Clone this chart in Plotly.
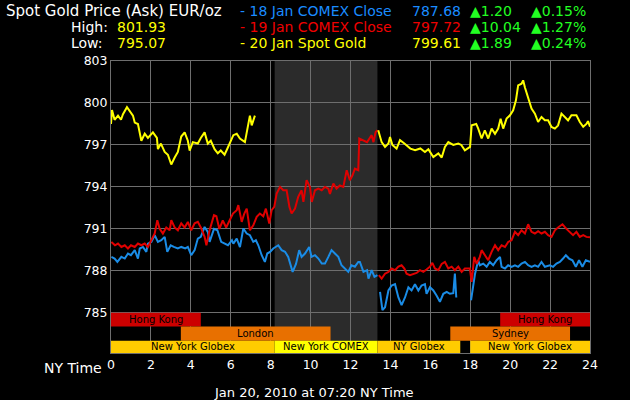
import plotly.graph_objects as go

# ---------------- data ----------------
# 20 Jan Spot Gold (yellow) - hours (NY time) and EUR/oz
yellow_h = [0.0, 0.05, 0.18, 0.35, 0.5, 0.6, 0.8, 0.94, 1.1, 1.19, 1.35, 1.52, 1.69, 1.85, 2.1, 2.3, 2.35, 2.5,
            2.69, 2.85, 3.02, 3.19, 3.35, 3.52, 3.69, 3.85, 3.94, 4.1, 4.35, 4.5, 4.69, 4.85, 5.0, 5.19, 5.35,
            5.5, 5.69, 5.85, 6.0, 6.13, 6.3, 6.46, 6.71, 6.88, 6.96, 7.05, 7.21, None,
            13.39, 13.56, 13.73, 13.9, 13.98, 14.1, 14.31, 14.48, 14.7, 15.0, 15.24, 15.5, 15.73, 15.9, 16.15,
            16.4, 16.57, 16.73, 16.9, 17.15, 17.4, 17.55, 17.73, 17.9, 17.99, 18.07, 18.3, 18.4, 18.57, 18.73,
            18.9, 19.07, 19.24, 19.4, 19.52, 19.65, 19.82, 19.99, 20.15, 20.29, 20.4, 20.57, 20.65, 20.74,
            20.9, 21.07, 21.24, 21.4, 21.57, 21.74, 21.9, 22.07, 22.24, 22.4, 22.57, 22.73, 22.9, 23.07,
            23.32, 23.49, 23.66, 23.82, 23.9, 24.0]
yellow_v = [798.5, 799.5, 798.8, 799.1, 798.8, 799.2, 799.7, 799.4, 799.1, 798.6, 798.5, 797.3, 797.8, 797.5,
            797.9, 797.5, 796.7, 797.1, 796.5, 796.3, 795.6, 796.1, 796.5, 797.6, 797.9, 797.3, 796.6, 797.2,
            797.1, 797.5, 797.9, 797.1, 797.3, 796.7, 796.4, 796.6, 796.3, 796.8, 797.3, 797.7, 797.8, 797.45,
            797.2, 798.5, 799.1, 798.4, 799.1, None,
            798.05, 797.2, 796.86, 797.1, 797.57, 797.0, 796.74, 797.34, 797.1, 796.74, 796.62, 796.75, 796.5,
            796.7, 796.14, 796.4, 796.1, 796.86, 797.2, 797.0, 797.1, 797.0, 796.62, 796.74, 796.86, 798.4,
            798.5, 798.17, 797.46, 798.05, 797.46, 798.17, 797.8, 798.17, 798.88, 798.17, 798.88, 799.12,
            799.48, 800.19, 801.26, 801.38, 801.62, 801.1, 800.43, 799.6, 799.24, 798.64, 799.0, 798.76,
            798.76, 798.29, 798.17, 798.4, 799.24, 799.0, 798.76, 799.12, 799.12, 798.64, 798.3, 798.5,
            798.7, 798.3]

# 19 Jan COMEX Close (red)
red_h = [0.02, 0.2, 0.35, 0.52, 0.69, 0.85, 1.0, 1.19, 1.35, 1.52, 1.69, 1.85, 2.02, 2.19, 2.32, 2.44, 2.6,
         2.77, 2.94, 3.02, 3.19, 3.35, 3.52, 3.69, 3.85, 4.02, 4.19, 4.35, 4.5, 4.69, 4.78, 4.94, 5.16, 5.28,
         5.43, 5.6, 5.77, 5.94, 6.11, 6.3, 6.38, 6.55, 6.68, 6.8, 6.96, 7.13, 7.3, 7.46, 7.63, 7.76, 7.93,
         8.05, 8.18, 8.3, 8.47, 8.63, 8.8, 8.94, 9.05, 9.22, 9.38, 9.55, 9.64, 9.8, 9.97, 10.06, 10.22,
         10.39, 10.56, 10.72, 10.89, 10.97, 11.14, 11.3, 11.47, 11.64, 11.81, 11.97, 12.1, 12.22, 12.39,
         12.44, 12.65, 12.83, 12.95, 13.06, 13.15, 13.26, 13.35, None,
         13.42, 13.56, 13.73, 13.9, 14.06, 14.23, 14.4, 14.56, 14.7, 14.81, 14.98, 15.15, 15.31, 15.48,
         15.65, 15.81, 15.98, 16.1, 16.23, 16.4, 16.57, 16.73, 16.9, 17.07, 17.23, 17.4, 17.57, 17.73,
         17.98, 18.07, 18.2, 18.32, 18.48, 18.57, 18.73, 18.9, 19.07, 19.24, 19.4, 19.57, 19.74, 19.9,
         20.07, 20.24, 20.4, 20.57, 20.74, 20.9, 21.07, 21.24, 21.4, 21.57, 21.74, 21.9, 22.07, 22.24,
         22.4, 22.62, 22.82, 22.99, 23.15, 23.32, 23.49, 23.66, 23.82, 24.0]
red_v = [790.07, 789.83, 789.95, 789.71, 789.83, 789.6, 789.83, 789.71, 789.95, 789.83, 789.95, 789.71,
         790.19, 790.67, 791.62, 791.0, 790.67, 791.1, 790.9, 791.62, 791.1, 790.9, 791.4, 791.1, 791.5,
         790.9, 791.4, 791.5, 791.1, 790.43, 789.83, 790.9, 791.98, 791.9, 791.0, 791.6, 791.1, 791.62,
         792.1, 792.34, 792.7, 791.5, 792.1, 792.45, 790.9, 791.26, 791.86, 792.1, 791.9, 792.45, 791.38,
         792.34, 792.57, 793.52, 794.0, 793.76, 793.76, 792.57, 792.1, 792.45, 793.29, 793.76, 792.93,
         794.48, 794.0, 792.93, 793.76, 793.88, 793.76, 794.0, 793.88, 793.5, 794.24, 793.88, 794.1, 794.0,
         795.19, 794.48, 794.83, 795.3, 795.19, 797.46, 797.3, 797.2, 797.46, 797.7, 797.2, 797.93, 798.05,
         None,
         787.69, 787.45, 787.8, 787.93, 788.17, 788.05, 788.3, 788.4, 788.17, 787.8, 787.69, 787.75, 787.85,
         788.05, 787.93, 788.1, 788.3, 788.57, 788.17, 788.05, 788.5, 788.64, 788.17, 788.3, 788.05, 788.3,
         787.93, 788.17, 788.17, 787.21, 789.0, 788.5, 789.0, 789.48, 789.12, 788.76, 789.36, 789.83,
         789.48, 789.83, 789.71, 790.07, 790.19, 790.79, 790.55, 790.9, 790.67, 791.33, 790.79, 790.67,
         790.83, 790.67, 790.79, 790.55, 790.43, 790.9, 791.1, 791.33, 791.0, 790.79, 790.55, 790.79,
         790.43, 790.55, 790.43, 790.4]

# 18 Jan COMEX Close (blue)
blue_h = [0.02, 0.18, 0.32, 0.52, 0.69, 0.85, 1.0, 1.19, 1.35, 1.44, 1.6, 1.77, 1.85, 2.02, 2.19, 2.35, 2.52,
          2.69, 2.82, 2.99, 3.15, 3.35, 3.52, 3.72, 3.85, 4.02, 4.19, 4.35, 4.5, 4.69, 4.85, 4.94, 5.16, 5.33,
          5.52, 5.69, 5.86, 6.06, 6.13, 6.3, 6.46, 6.63, 6.8, 6.96, 7.13, 7.26, 7.38, 7.55, 7.71, 7.83, 7.97,
          8.13, 8.38, 8.55, 8.72, 8.88, 9.1, 9.27, 9.43, 9.55, 9.72, 9.93, 10.05, 10.22, 10.39, 10.56, 10.72,
          10.89, 11.05, 11.22, 11.39, 11.55, 11.72, 11.89, 12.05, 12.22, 12.39, 12.47, 12.65, 12.83, 12.9,
          13.06, 13.2, 13.35, None,
          13.48, 13.6, 13.73, 13.9, 14.06, 14.23, 14.4, 14.56, 14.73, 14.9, 15.06, 15.23, 15.4, 15.56, 15.73,
          15.81, 15.98, 16.15, 16.31, 16.48, 16.65, 16.82, 16.98, 17.15, 17.23, 17.3, None,
          18.04, 18.24, 18.4, 18.48, 18.65, 18.82, 18.98, 19.15, 19.32, 19.49, 19.57, 19.74, 19.9, 20.07,
          20.24, 20.4, 20.57, 20.74, 20.9, 21.07, 21.24, 21.4, 21.57, 21.74, 21.99, 22.15, 22.32, 22.49,
          22.65, 22.79, 22.95, 23.12, 23.29, 23.45, 23.62, 23.79, 24.0]
blue_v = [789.0, 788.88, 788.64, 789.0, 788.88, 789.24, 789.12, 789.48, 788.88, 789.6, 789.71, 789.36, 789.95,
          790.07, 790.55, 790.07, 790.19, 790.43, 789.36, 789.83, 789.71, 789.6, 789.71, 789.6, 789.71, 789.12,
          789.48, 790.31, 790.43, 791.14, 790.79, 790.07, 791.0, 790.9, 790.07, 789.95, 789.83, 790.19, 789.95,
          790.3, 789.7, 791.03, 790.67, 790.55, 790.07, 790.19, 789.83, 789.12, 788.64, 789.24, 789.36, 789.6,
          789.83, 789.48, 789.36, 789.0, 787.93, 788.5, 789.48, 789.0, 789.24, 789.71, 789.0, 789.12, 788.88,
          788.52, 788.52, 789.0, 789.48, 789.24, 789.0, 788.4, 788.17, 787.93, 788.4, 788.3, 788.64, 788.64,
          787.93, 788.05, 787.45, 788.05, 787.57, 787.69, None,
          786.5, 785.19, 785.4, 786.6, 786.95, 787.05, 786.1, 785.55, 786.1, 786.83, 786.6, 787.05, 786.6,
          786.95, 787.05, 786.36, 786.83, 786.6, 786.24, 785.79, 786.36, 786.5, 786.36, 786.4, 787.81, 786.1,
          None,
          785.9, 787.8, 788.76, 788.4, 788.52, 788.29, 788.64, 788.4, 788.76, 789.0, 788.29, 788.17, 788.4,
          788.29, 788.4, 788.29, 788.52, 788.64, 788.4, 788.29, 788.4, 788.29, 788.64, 788.29, 788.4, 788.29,
          788.52, 788.64, 788.88, 789.12, 788.88, 788.76, 788.29, 788.76, 788.29, 788.76, 788.64]

# trading sessions
session_names = ["Hong Kong", "Hong Kong", "London", "Sydney",
                 "New York Globex", "New York COMEX", "NY Globex", "New York Globex"]
session_start = [0, 19.5, 3.5, 17, 0, 8.2, 13.35, 18]
session_end = [4.5, 24, 11, 23, 8.2, 13.35, 17.5, 24]
session_row = [0, 0, 1, 1, 2, 2, 2, 2]
session_color = ["#cc0000", "#cc0000", "#e87000", "#e87000",
                 "#ffcc00", "#ffff00", "#ffcc00", "#ffcc00"]
comex_window = [8.2, 13.35]

y_ticks = [785, 788, 791, 794, 797, 800, 803]
x_ticks = list(range(0, 25, 2))

legend_names = ["- 18 Jan COMEX Close", "- 19 Jan COMEX Close", "- 20 Jan Spot Gold"]
legend_close = ["787.68", "797.72", "799.61"]
legend_change = ["\u25b21.20", "\u25b210.04", "\u25b21.89"]
legend_pct = ["\u25b20.15%", "\u25b21.27%", "\u25b20.24%"]
legend_colors = ["#1a8cff", "#ee0000", "#ffff00"]
high_val = "801.93"
low_val = "795.07"

# ---------------- layout constants ----------------
W, H = 630, 400
L, R, T, B = 111, 40, 61, 47
Y_MIN, Y_MAX = 782.13, 803
row_edges = [(784.02, 785.0), (783.0, 784.02), (Y_MIN, 783.0)]
BLUE, RED, YEL = "#1a8ce6", "#e00000", "#ffff00"
GRID = "#6e6e6e"
FONT = "DejaVu Sans"

pw, ph = W - L - R, H - T - B


def px(x, y):
    # page pixel -> paper coordinate
    return (x - L) / pw, (H - B - y) / ph


fig = go.Figure()
for hs, vs, col, nm in [(blue_h, blue_v, BLUE, "18 Jan"), (red_h, red_v, RED, "19 Jan"),
                        (yellow_h, yellow_v, YEL, "20 Jan")]:
    fig.add_trace(go.Scatter(x=hs, y=vs, mode="lines", name=nm, connectgaps=False,
                             line=dict(color=col, width=2), hoverinfo="skip"))

shapes = [dict(type="rect", xref="x", yref="y", x0=comex_window[0], x1=comex_window[1],
               y0=783.0, y1=Y_MAX, fillcolor="#2b2b2b", line_width=0, layer="below")]
annotations = []
for nm, s, e, r, c in zip(session_names, session_start, session_end, session_row, session_color):
    y0, y1 = row_edges[r]
    shapes.append(dict(type="rect", xref="x", yref="y", x0=s, x1=e, y0=y0, y1=y1,
                       fillcolor=c, line_width=0, layer="between"))
    annotations.append(dict(x=(s + e) / 2, y=(y0 + y1) / 2, xref="x", yref="y", text=nm,
                            showarrow=False, font=dict(family=FONT, size=10, color="#000000"),
                            xanchor="center", yanchor="middle"))


def txt(x, y, s, color, size=14, anchor="left"):
    ax, ay = px(x, y)
    annotations.append(dict(x=ax, y=ay, xref="paper", yref="paper", text=s, showarrow=False,
                            font=dict(family=FONT, size=size, color=color),
                            xanchor=anchor, yanchor="middle"))


rows_y = [10.7, 26.8, 43.5]
txt(4, rows_y[0], "Spot Gold Price (Ask) EUR/oz", "#ffffff", size=15)
txt(69, rows_y[1], "High:", "#ffffff")
txt(115, rows_y[1], high_val, "#ffff00")
txt(69, rows_y[2], "Low:", "#ffffff")
txt(115, rows_y[2], low_val, "#ffff00")
for i in range(3):
    txt(238, rows_y[i], legend_names[i], legend_colors[i])
    txt(410, rows_y[i], legend_close[i], legend_colors[i])
    txt(468, rows_y[i], legend_change[i], "#22ff22")
    txt(529, rows_y[i], legend_pct[i], "#22ff22")
txt(42, 368, "NY Time", "#ffffff", size=14)
txt(314, 392, "Jan 20, 2010 at 07:20 NY Time", "#ffffff", size=13, anchor="center")

fig.update_layout(
    width=W, height=H, margin=dict(l=L, r=R, t=T, b=B),
    paper_bgcolor="#000000", plot_bgcolor="#000000",
    showlegend=False, shapes=shapes, annotations=annotations,
    font=dict(family=FONT, color="#ffffff", size=12),
    xaxis=dict(range=[0, 24], tickvals=x_ticks, ticktext=[str(v) for v in x_ticks],
               showgrid=True, gridcolor=GRID, gridwidth=1, zeroline=False,
               showline=True, linecolor=GRID, mirror=True, ticks="",
               tickfont=dict(family=FONT, size=12.5, color="#ffffff")),
    yaxis=dict(range=[Y_MIN, Y_MAX], tickvals=y_ticks, ticktext=[str(v) for v in y_ticks],
               showgrid=True, gridcolor=GRID, gridwidth=1, zeroline=False,
               showline=True, linecolor=GRID, mirror=True, ticks="",
               tickfont=dict(family=FONT, size=12.5, color="#ffffff")),
)

# remove the default 8px page margin so the 630x400 figure fills the window exactly
fig.write_html("out.html", config={"displayModeBar": False},
               post_script="document.body.style.margin='0';document.body.style.background='#000';")
